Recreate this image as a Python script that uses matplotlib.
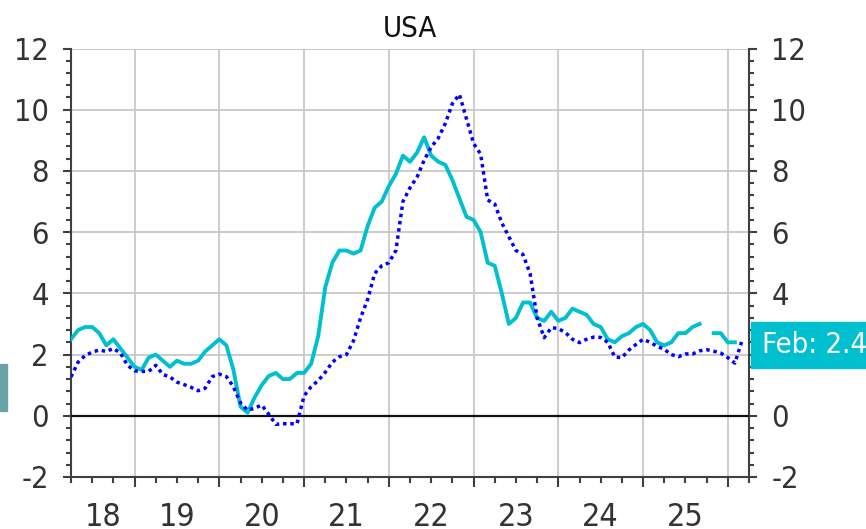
import numpy as np
import matplotlib
matplotlib.use('Agg')
import matplotlib.pyplot as plt
from matplotlib.patches import Rectangle
from matplotlib.ticker import MultipleLocator
from matplotlib import font_manager as fm

# look for a narrow face, the original uses a condensed sans
narrow = None
for fam, stretch in [('Liberation Sans Narrow', 'normal'), ('Liberation Sans Narrow', 'condensed'),
                     ('DejaVu Sans', 'condensed'), ('DejaVu Sans Condensed', 'normal')]:
    try:
        path = fm.findfont(fm.FontProperties(family=fam, stretch=stretch), fallback_to_default=False)
    except Exception:
        continue
    if 'narrow' in path.lower() or 'condensed' in path.lower():
        narrow = path
        break

if narrow:
    fm.fontManager.addfont(narrow)
    fname = fm.FontProperties(fname=narrow).get_name()
    plt.rcParams['font.family'] = [fname, 'DejaVu Sans']
    if 'condensed' in narrow.lower():
        plt.rcParams['font.stretch'] = 'condensed'
    fs = 22
else:
    plt.rcParams['font.family'] = ['Liberation Sans', 'DejaVu Sans']
    fs = 21
plt.rcParams['axes.unicode_minus'] = False

# monthly data, first month Apr 2018
start_year = 2018.25
solid_vals = [2.5, 2.8, 2.9, 2.9, 2.7, 2.3, 2.5, 2.2, 1.9,
              1.6, 1.5, 1.9, 2.0, 1.8, 1.6, 1.8, 1.7, 1.7, 1.8, 2.1, 2.3,
              2.5, 2.3, 1.5, 0.3, 0.1, 0.6, 1.0, 1.3, 1.4, 1.2, 1.2, 1.4,
              1.4, 1.7, 2.6, 4.2, 5.0, 5.4, 5.4, 5.3, 5.4, 6.2, 6.8, 7.0,
              7.5, 7.9, 8.5, 8.3, 8.6, 9.1, 8.5, 8.3, 8.2, 7.7, 7.1, 6.5,
              6.4, 6.0, 5.0, 4.9, 4.0, 3.0, 3.2, 3.7, 3.7, 3.2, 3.1, 3.4,
              3.1, 3.2, 3.5, 3.4, 3.3, 3.0, 2.9, 2.5, 2.4, 2.6, 2.7, 2.9,
              3.0, 2.8, 2.4, 2.3, 2.4, 2.7, 2.7, 2.9, 3.0, np.nan, 2.7, 2.7,
              2.4, 2.4]
dotted_vals = [1.27, 1.75, 1.97, 2.08, 2.15, 2.1, 2.2, 2.05, 1.65,
               1.47, 1.45, 1.45, 1.65, 1.35, 1.27, 1.1, 1.02, 0.93, 0.82, 0.9, 1.28,
               1.36, 1.28, 0.95, 0.42, 0.18, 0.25, 0.35, 0.05, -0.28, -0.26, -0.26, -0.26,
               0.65, 0.95, 1.15, 1.42, 1.75, 1.93, 2.0, 2.45, 3.2, 3.8, 4.65, 4.9,
               5.0, 5.4, 7.0, 7.45, 7.8, 8.35, 8.78, 9.07, 9.55, 10.2, 10.5, 9.7,
               8.9, 8.55, 7.05, 6.92, 6.3, 5.85, 5.4, 5.27, 4.65, 3.2, 2.55, 2.88,
               2.85, 2.72, 2.5, 2.39, 2.5, 2.57, 2.56, 2.4, 1.92, 1.9, 2.15, 2.33,
               2.5, 2.4, 2.27, 2.17, 2.0, 1.93, 2.02, 2.02, 2.12, 2.16, 2.11, 2.05,
               1.9, 1.72, 2.45]
year_labels = ['18', '19', '20', '21', '22', '23', '24', '25']
title = 'USA'
last_label = 'Feb: 2.4'

cyan = '#00c0d0'
t_solid = start_year + np.arange(len(solid_vals)) / 12
t_dot = start_year + np.arange(len(dotted_vals)) / 12

fig = plt.figure(figsize=(8.66, 5.29), dpi=100)
ax = fig.add_axes([71 / 866, 1 - 477 / 529, (749 - 71) / 866, (477 - 48.5) / 529])

ax.plot(t_solid, solid_vals, color=cyan, lw=2.8, zorder=4)
ax.plot(t_dot, dotted_vals, color='#0000ff', lw=2.5, linestyle=(0, (1, 1.1)),
        dash_capstyle='butt', zorder=5)
ax.axhline(0, color='#111111', lw=1.6, zorder=3)

ax.set_xlim(2018.25, 2026.25)
ax.set_ylim(-2, 12)

# x axis: year boundaries + quarters, labels in the middle of each year
ax.set_xticks(np.arange(2019, 2027))
ax.set_xticklabels([])
ax.xaxis.set_minor_locator(MultipleLocator(0.25))
ax.tick_params(axis='x', which='major', direction='out', length=7, width=1.5, color='#404040')
ax.tick_params(axis='x', which='minor', direction='out', length=4.5, width=1.5, color='#404040')
for i, lab in enumerate(year_labels):
    yr = 2018 + i
    xc = (max(yr, 2018.25) + yr + 1) / 2
    ax.text(xc, -0.058, lab, transform=ax.get_xaxis_transform(), ha='center', va='top',
            fontsize=fs + 1, color='#333333')

# y axis on both sides
ax.set_yticks(np.arange(-2, 13, 2))
ax.yaxis.set_minor_locator(MultipleLocator(0.4))
ax.tick_params(axis='y', which='both', left=True, right=True, labelleft=True, labelright=True,
               direction='out', width=1.5, color='#404040', labelsize=fs, labelcolor='#333333')
ax.tick_params(axis='y', which='major', length=6, pad=10)
ax.tick_params(axis='y', which='minor', length=3.5)

ax.grid(True, which='major', color='#c8c8c8', lw=1.3)
ax.set_axisbelow(True)
for s in ['left', 'right', 'bottom']:
    ax.spines[s].set_color('#404040')
    ax.spines[s].set_linewidth(1.5)
ax.spines['top'].set_visible(False)

ax.set_title(title, fontsize=fs - 1, color='#111111', pad=8)

# the value box covers the right-hand "2"
fig.canvas.draw()
for tk in ax.yaxis.get_major_ticks():
    if abs(tk.get_loc() - 2) < 1e-9:
        tk.label2.set_visible(False)

# value label on the right
fig.patches.append(Rectangle((750.5 / 866, 1 - 368 / 529), 1 - 750.5 / 866, 46 / 529,
                             transform=fig.transFigure, color=cyan, zorder=1))
fig.text(762 / 866, 1 - 345 / 529, last_label, color='white', fontsize=(fs - 1) if narrow else 17,
         va='center', ha='left')

# cut-off box at the left edge
fig.patches.append(Rectangle((0, 1 - 410.7 / 529), 6.7 / 866, 46.7 / 529,
                             transform=fig.transFigure, color='#6aa3a6', zorder=1))

fig.savefig('out.png', dpi=100)
